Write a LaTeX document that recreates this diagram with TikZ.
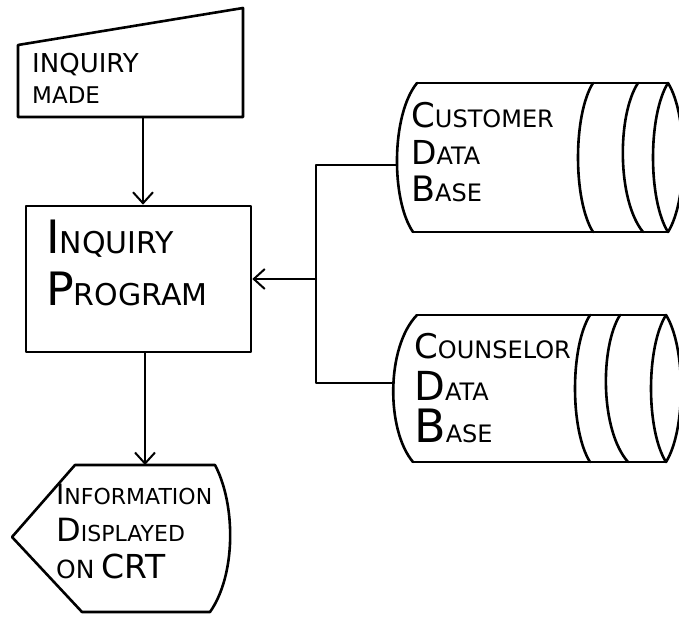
\documentclass[tikz,border=0pt]{standalone}
\usepackage{fontspec}
\setmainfont{DejaVu Sans}
\usetikzlibrary{arrows.meta}
\newcommand\Bg[2]{{\fontsize{#1}{#1}\selectfont #2}}
\begin{document}
\begin{tikzpicture}[x=1pt,y=-1pt, line join=round, line cap=round,
  shapeline/.style={draw=black, line width=2.6pt},
  conn/.style={line width=2.2pt},
  arr/.style={conn, -{Straight Barb[length=11pt,width=20pt,line width=2pt]}},
  lbl/.style={inner sep=0pt, anchor=north west, align=left}]
\useasboundingbox (0,0) rectangle (679,617);

% Inquiry made (manual input)
\draw[shapeline] (18,45) -- (243,8) -- (243,117) -- (18,117) -- cycle;
\node[lbl, font=\fontsize{26}{31}\selectfont] (madetext) at (32,53) {INQUIRY\\\Bg{23}{MADE}};
\coordinate (madeB) at (143,117);

% Inquiry program
\node[shapeline, minimum width=225pt, minimum height=146pt, inner sep=0pt] (prog) at (138.5,279) {};
\node[lbl, font=\fontsize{30}{52}\selectfont] (progtext) at (46,220) {\Bg{46}{I}NQUIRY\\\Bg{46}{P}ROGRAM};

% Information displayed (display)
\draw[shapeline] (75,465) -- (215,465) .. controls (236,505) and (236,575) .. (210,612) -- (82,612) -- (12,537) -- cycle;
\node[lbl, font=\fontsize{22}{37}\selectfont] (disptext) at (56,484) {\Bg{28}{I}NFORMATION\\\Bg{32}{D}ISPLAYED\\\Bg{25}{ON} \Bg{33}{CRT}};
\coordinate (dispT) at (145,465);

% Customer data base
\draw[shapeline] (417,83) -- (668,83) (413,232) -- (668,232);
\draw[shapeline] (417,83) .. controls (391,115) and (391,200) .. (413,232);
\draw[shapeline] (593,83) .. controls (573,115) and (573,200) .. (593,232);
\draw[shapeline] (638,83) .. controls (617,115) and (617,200) .. (643,232);
\draw[shapeline] (668,83) .. controls (648,115) and (648,200) .. (668,232);
\draw[shapeline] (668,83) .. controls (688,115) and (688,200) .. (668,232);
\node[lbl, font=\fontsize{24}{37}\selectfont] (custtext) at (411,102) {\Bg{34}{C}USTOMER\\\Bg{33}{D}ATA\\\Bg{35}{B}ASE};
\coordinate (custW) at (397,165);

% Counselor data base
\draw[shapeline] (417,315) -- (666,315) (413,462) -- (666,462);
\draw[shapeline] (417,315) .. controls (386,347) and (386,430) .. (413,462);
\draw[shapeline] (590,315) .. controls (570,347) and (570,430) .. (590,462);
\draw[shapeline] (620,315) .. controls (600,347) and (600,430) .. (628,462);
\draw[shapeline] (666,315) .. controls (646,347) and (646,430) .. (666,462);
\draw[shapeline] (666,315) .. controls (686,347) and (686,430) .. (666,462);
\node[lbl, font=\fontsize{24}{42}\selectfont] (counstext) at (414,333) {\Bg{34}{C}OUNSELOR\\\Bg{40}{D}ATA\\\Bg{46}{B}ASE};
\coordinate (counsW) at (394,383);

% Connectors
\coordinate (bus) at (316,279);
\draw[arr] (madeB) -- (madeB |- prog.north);
\draw[arr] (dispT |- prog.south) -- (dispT);
\draw[conn] (custW) -- (bus |- custW) -- (bus |- counsW) -- (counsW);
\draw[arr] (bus) -- (prog.east);
\end{tikzpicture}
\end{document}
